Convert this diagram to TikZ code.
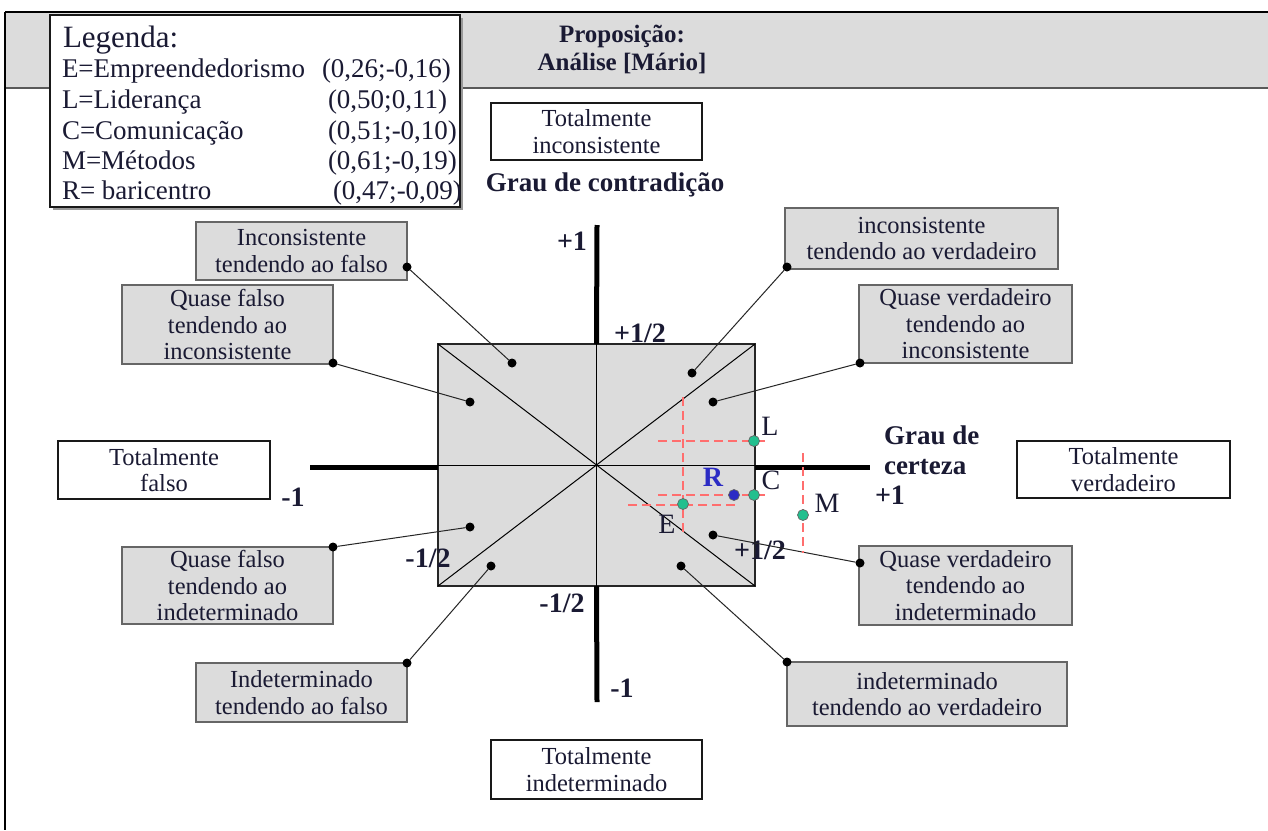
\documentclass[tikz,border=0pt]{standalone}
\usepackage{fontspec}
\setmainfont{Liberation Serif}
\definecolor{bandgray}{HTML}{DCDCDC}
\definecolor{boxgray}{HTML}{DCDCDC}
\definecolor{ptgreen}{HTML}{22BF8E}
\definecolor{ptblue}{HTML}{2B2BC4}
\definecolor{dashred}{HTML}{FF6E6E}
\definecolor{txtcol}{HTML}{1A1A33}
\newcommand\bxfont{\fontsize{24.5}{26.5}\selectfont}
\newcommand\lgfont{\fontsize{27}{31}\selectfont}
\newcommand\axlbfont{\bfseries\fontsize{28}{30}\selectfont}
\newcommand\ptfont{\fontsize{28}{30}\selectfont}
\begin{document}
\begin{tikzpicture}[x=1pt,y=-1pt,
  every node/.style={inner sep=0pt, outer sep=0pt, text=txtcol},
  graybox/.style={draw=black!60, line width=1.5pt, fill=boxgray, align=center, font=\bxfont},
  whitebox/.style={draw=black!90, line width=1.3pt, fill=white, align=center, font=\bxfont},
  bdot/.style={circle, fill=black, minimum size=9pt},
  conn/.style={draw=black!85, line width=1pt},
  thickaxis/.style={line width=5pt},
  thinline/.style={line width=1pt},
  crosshair/.style={draw=dashred, line width=1.3pt, dash pattern=on 9pt off 5pt},
  gpt/.style={circle, fill=ptgreen, draw=black!60, line width=0.7pt, minimum size=11pt},
  bpt/.style={circle, fill=ptblue, draw=black!60, line width=0.7pt, minimum size=11pt},
  axlabel/.style={font=\axlbfont},
  ptlabel/.style={font=\ptfont},
]
\useasboundingbox (0,0) rectangle (1268,830);
\fill[white] (0,0) rectangle (1268,830);

% header band and frame
\fill[bandgray] (5,12) rectangle (1268,88);
\draw[black!65, line width=1.5pt] (5,88) -- (1268,88);
\draw[line width=1.5pt] (5,12) -- (1268,12);
\draw[line width=1.5pt] (5,12) -- (5,830);

% legend
\fill[black!40] (53,18) rectangle (463,210);
\node[draw=black!90, line width=1.3pt, fill=white, minimum width=410pt, minimum height=192pt, anchor=north west] (legend) at (50,15) {};
\node[anchor=base west, font=\fontsize{31}{33}\selectfont] (lgtitle) at (63,47) {Legenda:};
\node[anchor=base west, font=\lgfont] (lgE) at (62,77) {E=Empreendedorismo};
\node[anchor=base west, font=\lgfont] (lgEv) at (322,77) {(0,26;-0,16)};
\node[anchor=base west, font=\lgfont] (lgL) at (62,108) {L=Liderança};
\node[anchor=base west, font=\lgfont] (lgLv) at (328,108) {(0,50;0,11)};
\node[anchor=base west, font=\lgfont] (lgC) at (62,139) {C=Comunicação};
\node[anchor=base west, font=\lgfont] (lgCv) at (328,139) {(0,51;-0,10)};
\node[anchor=base west, font=\lgfont] (lgM) at (62,169) {M=Métodos};
\node[anchor=base west, font=\lgfont] (lgMv) at (328,169) {(0,61;-0,19)};
\node[anchor=base west, font=\lgfont] (lgR) at (62,199) {R= baricentro};
\node[anchor=base west, font=\lgfont] (lgRv) at (333,199) {(0,47;-0,09)};

% title
\node[align=center, font=\bfseries\fontsize{25}{28}\selectfont] (title) at (622,49) {Proposição:\\Análise [Mário]};

% white boxes
\node[whitebox, minimum width=211pt, minimum height=57pt] (w1) at (596.5,131.5) {Totalmente\\inconsistente};
\node[whitebox, minimum width=212pt, minimum height=58pt] (w2) at (164,470) {Totalmente\\falso};
\node[whitebox, minimum width=213pt, minimum height=57pt] (w3) at (1123.5,469.5) {Totalmente\\verdadeiro};
\node[whitebox, minimum width=211pt, minimum height=59pt] (w4) at (596.5,769.5) {Totalmente\\indeterminado};

\node[font=\bfseries\fontsize{27}{29}\selectfont] (gcontr) at (605,185) {Grau de contradição};
\node[font=\bfseries\fontsize{27}{30}\selectfont, align=left, anchor=west] (gcert) at (884,450) {Grau de\\certeza};

% gray boxes
\node[graybox, minimum width=211pt, minimum height=58pt] (b1) at (301.5,251) {Inconsistente\\tendendo ao falso};
\node[graybox, minimum width=211pt, minimum height=79pt] (b2) at (227.5,324.5) {Quase falso\\tendendo ao\\inconsistente};
\node[graybox, minimum width=273pt, minimum height=61pt] (b3) at (921.5,238.5) {inconsistente\\tendendo ao verdadeiro};
\node[graybox, minimum width=213pt, minimum height=78pt] (b4) at (965.5,324) {Quase verdadeiro\\tendendo ao\\inconsistente};
\node[graybox, minimum width=211pt, minimum height=77pt] (b5) at (227.5,585.5) {Quase falso\\tendendo ao\\indeterminado};
\node[graybox, minimum width=211pt, minimum height=59pt] (b6) at (301.5,692.5) {Indeterminado\\tendendo ao falso};
\node[graybox, minimum width=213pt, minimum height=79pt] (b7) at (965.5,585.5) {Quase verdadeiro\\tendendo ao\\indeterminado};
\node[graybox, minimum width=280pt, minimum height=64pt] (b8) at (927,694) {indeterminado\\tendendo ao verdadeiro};

% central square
\node[draw=black!85, line width=1.2pt, fill=boxgray, minimum width=317pt, minimum height=242pt] (sq) at (596.5,465) {};
\draw[thinline] (sq.north west) -- (sq.south east);
\draw[thinline] (sq.south west) -- (sq.north east);
\draw[thinline] (sq.north) -- (sq.south);
\draw[thinline] (sq.west) -- (sq.east);

% thick axes
\coordinate (vtop) at (597,225);
\coordinate (vbot) at (597,702);
\coordinate (hleft) at (310,467);
\coordinate (hright) at (870,467);
\draw[thickaxis] (vtop) -- (sq.north);
\draw[thickaxis] (sq.south) -- (vbot);
\draw[thickaxis] (hleft) -- (hleft -| sq.west);
\draw[thickaxis] (hright -| sq.east) -- (hright);

% axis labels
\node[axlabel] (ltop1) at (572,241) {+1};
\node[axlabel] (ltop12) at (640,333) {+1/2};
\node[axlabel] (lleft1) at (293,497) {-1};
\node[axlabel] (lleft12) at (428,558) {-1/2};
\node[axlabel] (lbot12) at (562,603) {-1/2};
\node[axlabel] (lbot1) at (622,688) {-1};
\node[axlabel] (lright12) at (760,550) {+1/2};
\node[axlabel] (lright1) at (890,495) {+1};

% dots and connectors
\node[bdot] (o1) at (407,267) {};
\node[bdot] (o2) at (333,363) {};
\node[bdot] (o3) at (787,267) {};
\node[bdot] (o4) at (860,363) {};
\node[bdot] (o5) at (333,547) {};
\node[bdot] (o6) at (407,663) {};
\node[bdot] (o7) at (860,563) {};
\node[bdot] (o8) at (787,662) {};
\node[bdot] (i1) at (512,363) {};
\node[bdot] (i2) at (470,402) {};
\node[bdot] (i3) at (692,373) {};
\node[bdot] (i4) at (713,402) {};
\node[bdot] (i5) at (470,527) {};
\node[bdot] (i6) at (491,566) {};
\node[bdot] (i7) at (713,535) {};
\node[bdot] (i8) at (681,566) {};
\draw[conn] (o1) -- (i1);
\draw[conn] (o2) -- (i2);
\draw[conn] (o3) -- (i3);
\draw[conn] (o4) -- (i4);
\draw[conn] (o5) -- (i5);
\draw[conn] (o6) -- (i6);
\draw[conn] (o7) -- (i7);
\draw[conn] (o8) -- (i8);

% crosshairs
\draw[crosshair] (658,441) -- (768,441);
\draw[crosshair] (683,397) -- (683,533);
\draw[crosshair] (658,495) -- (768,495);
\draw[crosshair] (628,505) -- (738,505);
\draw[crosshair] (803,453) -- (803,553);

% data points
\node[gpt] (pL) at (754,441) {};
\node[gpt] (pC) at (754,495) {};
\node[bpt] (pR) at (734,495) {};
\node[gpt] (pE) at (683,504) {};
\node[gpt] (pM) at (803,515) {};
\node[ptlabel] (tL) at (770,426) {L};
\node[ptlabel] (tC) at (771,480) {C};
\node[ptlabel, text=ptblue, font=\bfseries\fontsize{28}{30}\selectfont] (tR) at (713,477) {R};
\node[ptlabel] (tE) at (667,524) {E};
\node[ptlabel] (tM) at (827,503) {M};
\end{tikzpicture}
\end{document}
